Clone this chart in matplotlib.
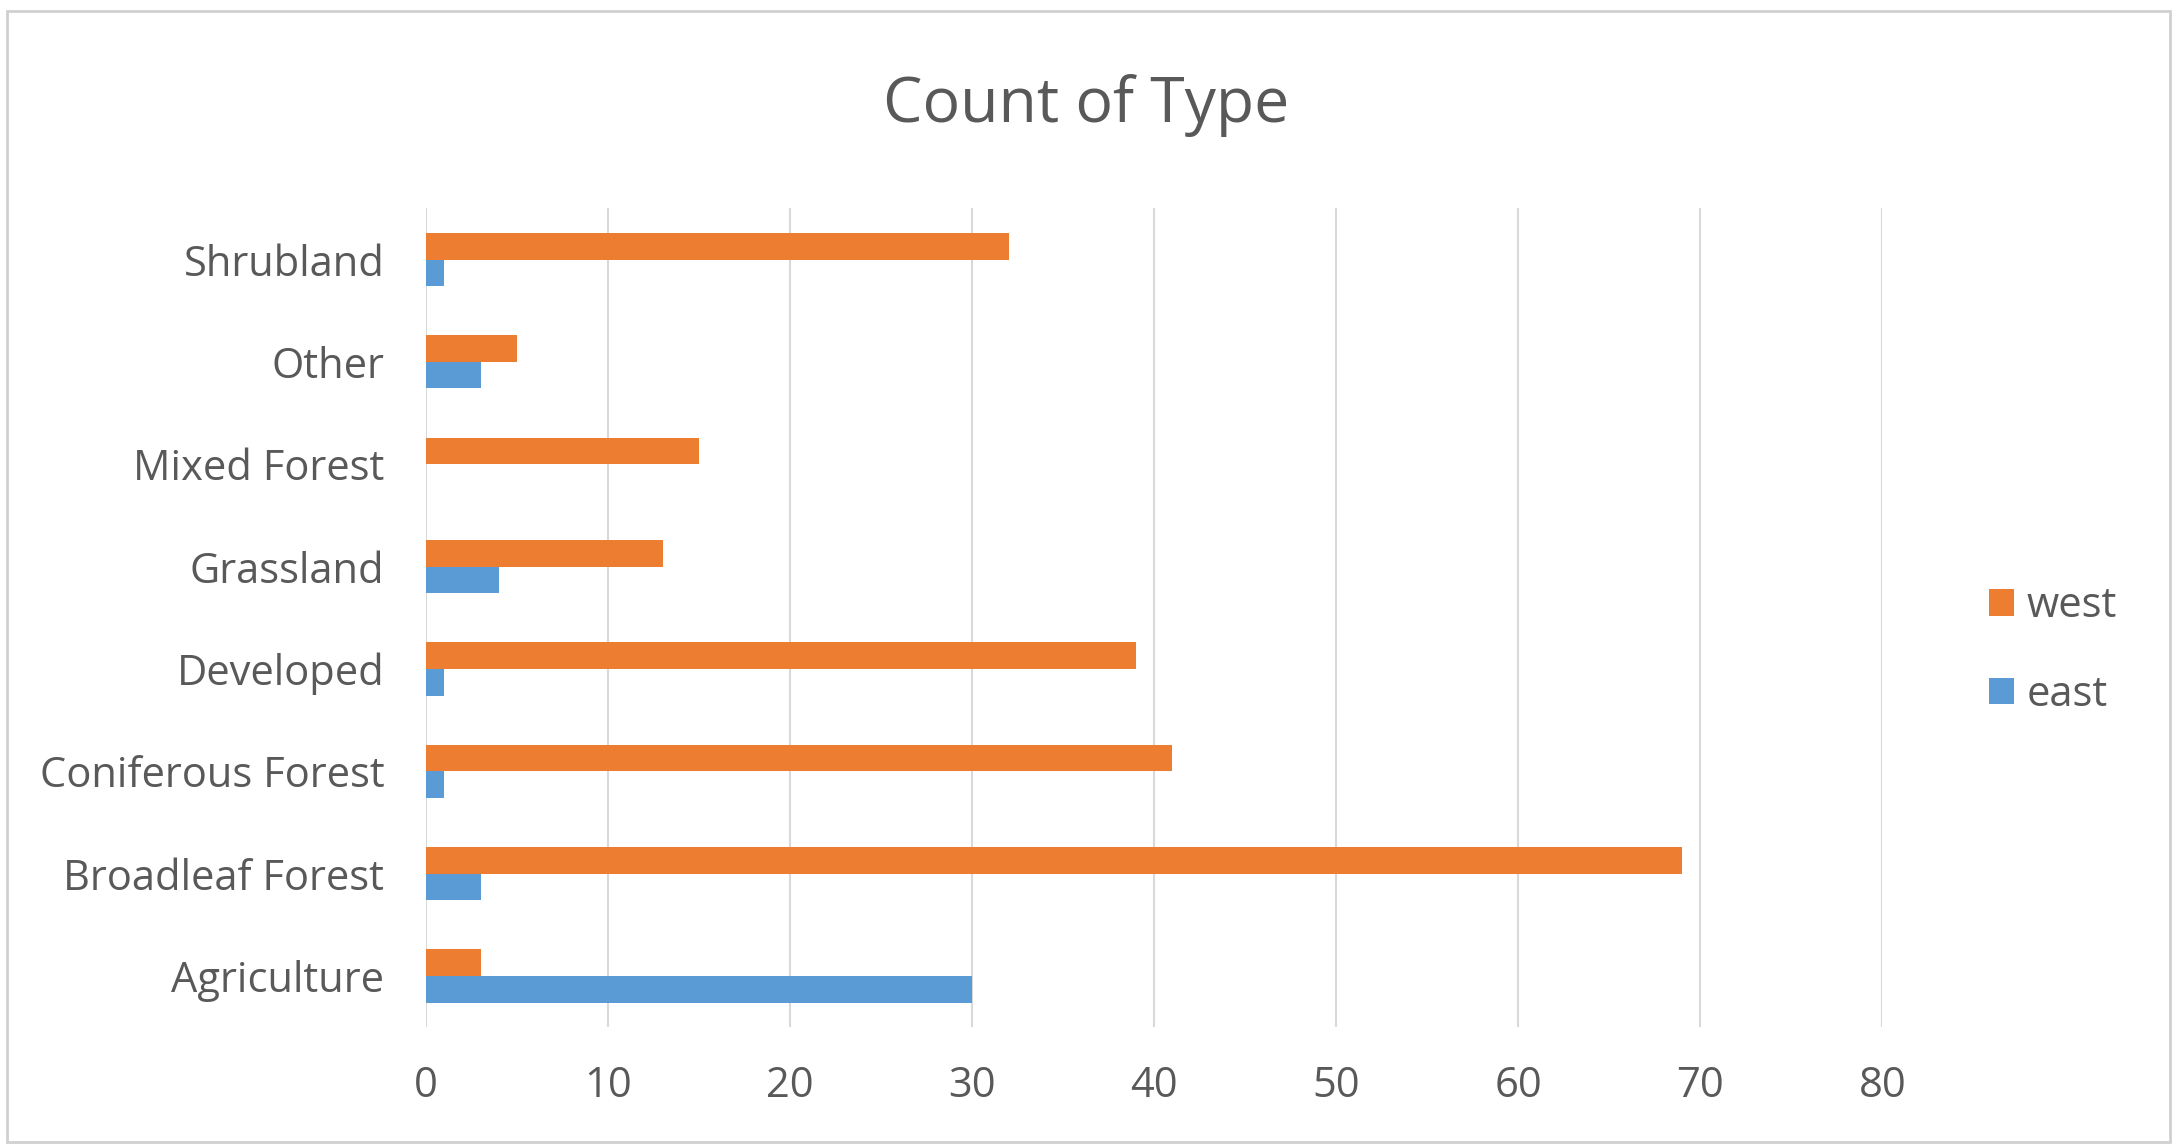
import numpy as np
import matplotlib.pyplot as plt
from matplotlib.patches import Rectangle

plt.rcParams['font.family'] = ['Open Sans', 'DejaVu Sans']

# Data
categories = ["Agriculture", "Broadleaf Forest", "Coniferous Forest", "Developed",
              "Grassland", "Mixed Forest", "Other", "Shrubland"]
west = [3, 69, 41, 39, 13, 15, 5, 32]
east = [30, 3, 1, 1, 4, 0, 3, 1]
xticks = [0, 10, 20, 30, 40, 50, 60, 70, 80]

west_color = "#ED7D31"
east_color = "#5B9BD5"
text_color = "#595959"
grid_color = "#D9D9D9"

fig = plt.figure(figsize=(21.77, 11.45), dpi=100)
ax = fig.add_axes([0.1957, 0.103, 0.669, 0.715])

y = np.arange(len(categories))
h = 0.26
ax.barh(y + h / 2, west, height=h, color=west_color, label="west", zorder=3)
ax.barh(y - h / 2, east, height=h, color=east_color, label="east", zorder=3)

ax.set_xlim(0, 80)
ax.set_ylim(-0.5, len(categories) - 0.5)
ax.set_xticks(xticks)
ax.set_yticks(y)
ax.set_yticklabels(categories)
ax.grid(axis="x", color=grid_color, linewidth=1.5, zorder=0)
ax.grid(axis="y", visible=False)
for s in ax.spines.values():
    s.set_visible(False)
ax.tick_params(axis="both", length=0, labelsize=30, labelcolor=text_color)
ax.tick_params(axis="x", pad=27)
ax.tick_params(axis="y", pad=30)

fig.text(0.499, 0.908, "Count of Type", ha="center", va="center",
         fontsize=45, color=text_color)

handles, labels = ax.get_legend_handles_labels()
leg = fig.legend(handles, labels, loc="center left", bbox_to_anchor=(0.904, 0.432),
                 frameon=False, fontsize=30, labelcolor=text_color, borderpad=0,
                 handlelength=0.6, handleheight=0.6, handletextpad=0.3,
                 labelspacing=1.12)

# light frame around the chart area
fig.patches.append(Rectangle((0.003, 0.003), 0.994, 0.987, transform=fig.transFigure,
                             fill=False, edgecolor="#D0D0D0", linewidth=2))

fig.savefig("out.png", dpi=100, facecolor="white")
plt.close(fig)
